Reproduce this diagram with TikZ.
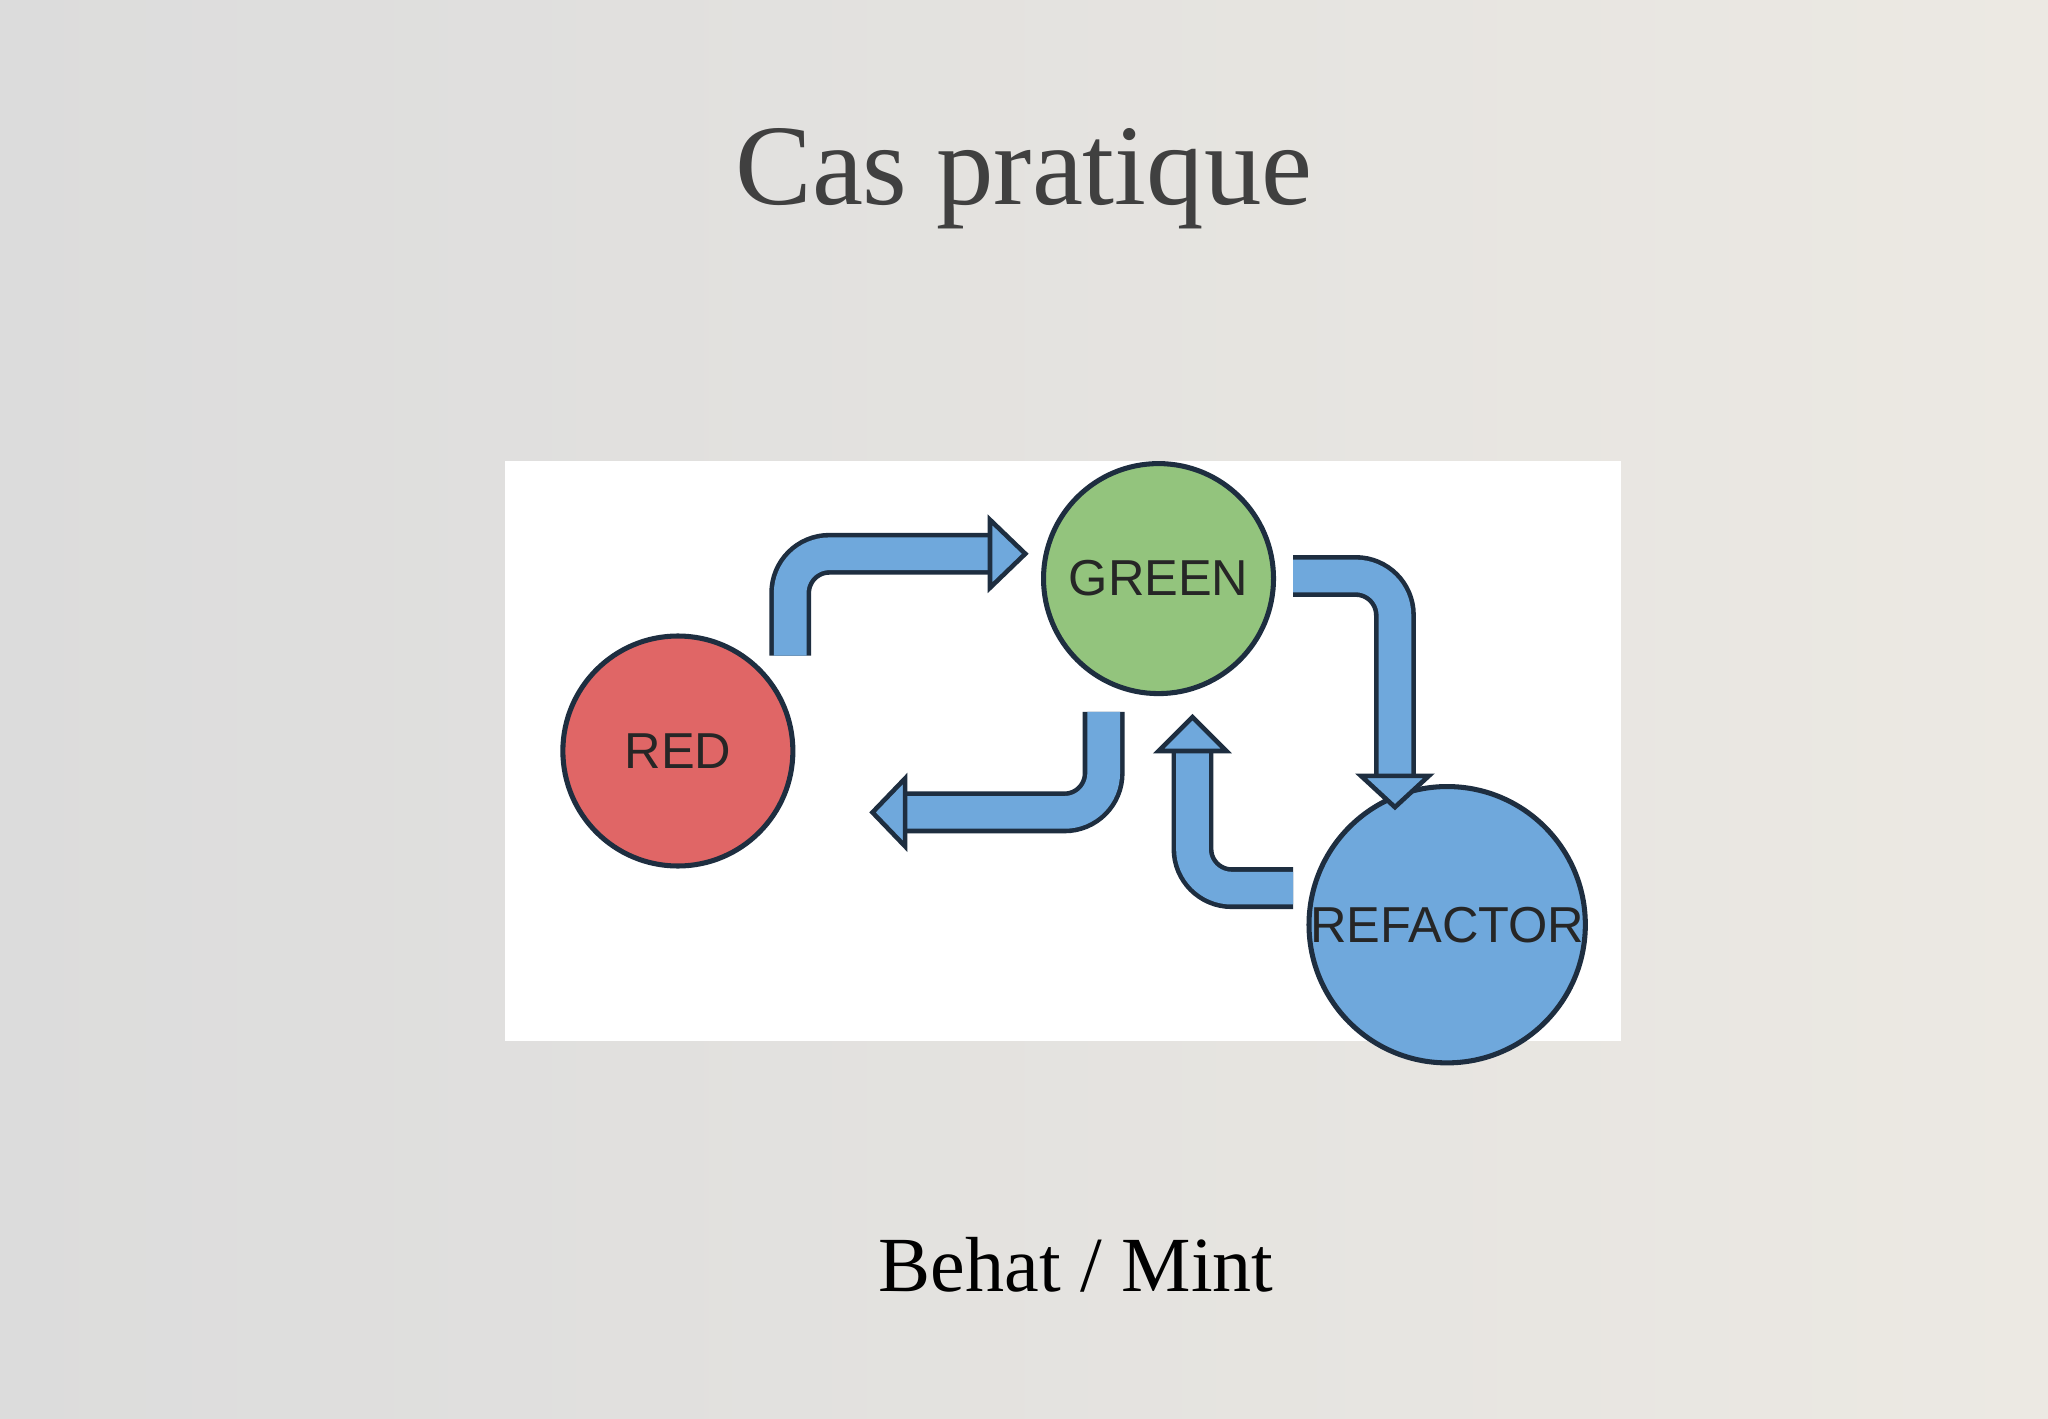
\documentclass[tikz,border=0pt]{standalone}
\usepackage{fontspec}
\setmainfont{Liberation Serif}
\setsansfont{Liberation Sans}
\definecolor{bgl}{HTML}{DCDCDC}
\definecolor{bgr}{HTML}{ECE9E3}
\definecolor{redc}{HTML}{E06666}
\definecolor{greenc}{HTML}{93C47D}
\definecolor{bluec}{HTML}{6FA8DC}
\definecolor{edge}{HTML}{1E2E40}
\definecolor{titlec}{HTML}{404040}
\begin{document}
\begin{tikzpicture}[x=0.01cm,y=-0.01cm,
  circ/.style={circle,draw=edge,line width=1.1pt,minimum size=1.76cm,inner sep=0pt,font=\sffamily\fontsize{11}{13}\selectfont,text=black!85},
  shaft/.style={draw=edge,line width=1pt,double=bluec,double distance=0.25cm,rounded corners=0.3cm},
  head/.style={fill=bluec,draw=edge,line width=1pt,line join=miter}]
\shade[left color=bgl,right color=bgr] (0,0) rectangle (1568,1086);
\useasboundingbox (0,0) rectangle (1568,1086);
\node[text=titlec,font=\fontsize{25}{30}\selectfont] (title) at (784,137) {Cas pratique};
\node[text=black,font=\fontsize{17}{20}\selectfont] (sub) at (824,968) {Behat / Mint};
\fill[white] (387,353) rectangle (1241,797);
\node[circ,fill=redc] (red) at (519,575) {RED};
\node[circ,fill=greenc] (green) at (887,443) {GREEN};
\node[circ,fill=bluec] (refactor) at (1108,708) {REFACTOR};
% arrow 1
\coordinate (a1s) at (605,502); \coordinate (a1e) at (760,424);
\draw[shaft] (a1s) |- (a1e);
\draw[head] (758,398) -- (785,424) -- (758,450) -- cycle;
% arrow 2
\coordinate (a2s) at (990,441); \coordinate (a2e) at (1068,596);
\draw[shaft] (a2s) -| (a2e);
\draw[head] (1042,594) -- (1068,618) -- (1094,594) -- cycle;
% arrow 3
\coordinate (a3s) at (845,545); \coordinate (a3e) at (691,622);
\draw[shaft] (a3s) |- (a3e);
\draw[head] (693,596) -- (668,622) -- (693,648) -- cycle;
% arrow 4
\coordinate (a4s) at (990,680); \coordinate (a4e) at (913,573);
\draw[shaft] (a4s) -| (a4e);
\draw[head] (887,575) -- (913,549) -- (939,575) -- cycle;
\end{tikzpicture}
\end{document}
